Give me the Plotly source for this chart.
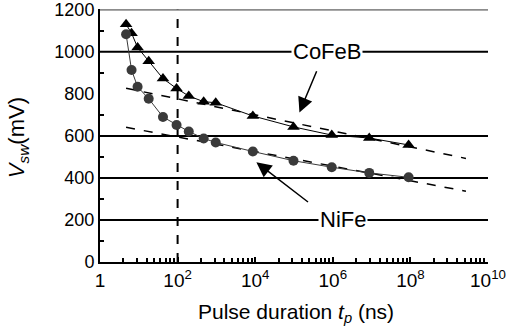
import plotly.graph_objects as go

# Data
t_ns = [4.7, 6.5, 9.3, 18, 42, 94, 194, 470, 960, 8.7e3, 9.7e4, 9.4e5, 8.7e6, 9.0e7]
v_cofeb = [1131, 1089, 1021, 955, 873, 826, 790, 763, 758, 695, 643, 604, 590, 557]
v_nife = [1084, 914, 834, 777, 690, 652, 621, 588, 569, 526, 482, 451, 424, 403]

fit_t = [4.7, 2.7e9]
fit_cofeb = [827, 493]
fit_nife = [641, 337]

x_tickvals = [1, 1e2, 1e4, 1e6, 1e8, 1e10]
x_ticktext = ["1", "10<sup>2</sup>", "10<sup>4</sup>", "10<sup>6</sup>", "10<sup>8</sup>", "10<sup>10</sup>"]
y_tickvals = [0, 200, 400, 600, 800, 1000, 1200]
grid_levels = [200, 400, 600, 1000]

FONT = "Liberation Sans, Arial, sans-serif"
NIFE_COLOR = "#3a3a3a"

fig = go.Figure()

# fit lines
fig.add_trace(go.Scatter(x=fit_t, y=fit_cofeb, mode="lines",
                         line=dict(color="black", width=1.5, dash="dash"),
                         showlegend=False, hoverinfo="skip"))
fig.add_trace(go.Scatter(x=fit_t, y=fit_nife, mode="lines",
                         line=dict(color="black", width=1.5, dash="dash"),
                         showlegend=False, hoverinfo="skip"))
# data
fig.add_trace(go.Scatter(x=t_ns, y=v_cofeb, mode="lines+markers", name="CoFeB",
                         line=dict(color="black", width=1),
                         marker=dict(symbol="triangle-up", size=11, color="black"),
                         showlegend=False))
fig.add_trace(go.Scatter(x=t_ns, y=v_nife, mode="lines+markers", name="NiFe",
                         line=dict(color=NIFE_COLOR, width=1),
                         marker=dict(symbol="circle", size=10, color=NIFE_COLOR),
                         showlegend=False))

shapes = []
for g in grid_levels:
    shapes.append(dict(type="line", xref="paper", yref="y", x0=0, x1=1, y0=g, y1=g,
                       line=dict(color="black", width=2), layer="below"))
shapes.append(dict(type="line", xref="paper", yref="y", x0=0, x1=1, y0=1200, y1=1200,
                   line=dict(color="#8c8c8c", width=2), layer="below"))
shapes.append(dict(type="line", xref="x", yref="y", x0=100, x1=100, y0=0, y1=1200,
                   line=dict(color="black", width=2, dash="dash"), layer="below"))

minor_x = [k * k * 100 ** n for n in range(5) for k in range(2, 10)]

fig.update_layout(
    width=518, height=334,
    margin=dict(l=100, r=30, t=9, b=72, autoexpand=False),
    paper_bgcolor="white", plot_bgcolor="white",
    font=dict(family=FONT, size=18, color="black"),
    shapes=shapes,
    xaxis=dict(type="log", range=[0, 10], tickvals=x_tickvals, ticktext=x_ticktext,
               showgrid=False, zeroline=False, showline=True, linecolor="black", linewidth=2,
               ticks="inside", ticklen=5, tickwidth=1.5, tickcolor="black",
               minor=dict(tickmode="array", tickvals=minor_x, ticks="inside", ticklen=4,
                          tickwidth=1.5, tickcolor="black", showgrid=False),
               tickfont=dict(size=19), ticklabeloverflow="allow", automargin=False),
    yaxis=dict(range=[0, 1204], tickvals=y_tickvals, showgrid=False, zeroline=False,
               showline=True, linecolor="black", linewidth=2, ticks="",
               minor=dict(tickmode="array", tickvals=[100, 300, 500, 700, 900, 1100],
                          ticks="inside", ticklen=4, tickwidth=1.5, tickcolor="black"),
               tickfont=dict(size=18), ticklabeloverflow="allow", automargin=False),
    annotations=[
        dict(text="CoFeB", xref="x", yref="y", x=5.85, y=1000, showarrow=False,
             bgcolor="white", borderpad=1, font=dict(size=22),
             xanchor="center", yanchor="middle"),
        dict(text="NiFe", xref="x", yref="y", x=6.25, y=200, showarrow=False,
             bgcolor="white", borderpad=1, font=dict(size=22),
             xanchor="center", yanchor="middle"),
        dict(text="", xref="x", yref="y", x=5.14, y=712, axref="x", ayref="y",
             ax=5.6, ay=915, showarrow=True, arrowhead=2, arrowsize=2,
             arrowwidth=1.5, arrowcolor="black", standoff=0),
        dict(text="", xref="x", yref="y", x=4.03, y=475, axref="x", ayref="y",
             ax=5.4, ay=280, showarrow=True, arrowhead=2, arrowsize=2,
             arrowwidth=1.5, arrowcolor="black", standoff=0),
        dict(text="<i>V</i><sub><i>sw</i></sub>(mV)", xref="paper", yref="paper",
             x=-0.211, y=0.49, textangle=-90, showarrow=False,
             xanchor="center", yanchor="middle", font=dict(size=22)),
        dict(text="Pulse duration <i>t</i><sub><i>p</i></sub> (ns)", xref="paper", yref="paper",
             x=0.505, y=-0.2, showarrow=False, xanchor="center", yanchor="middle",
             font=dict(size=21)),
    ],
)

fig.write_html("out.html")
